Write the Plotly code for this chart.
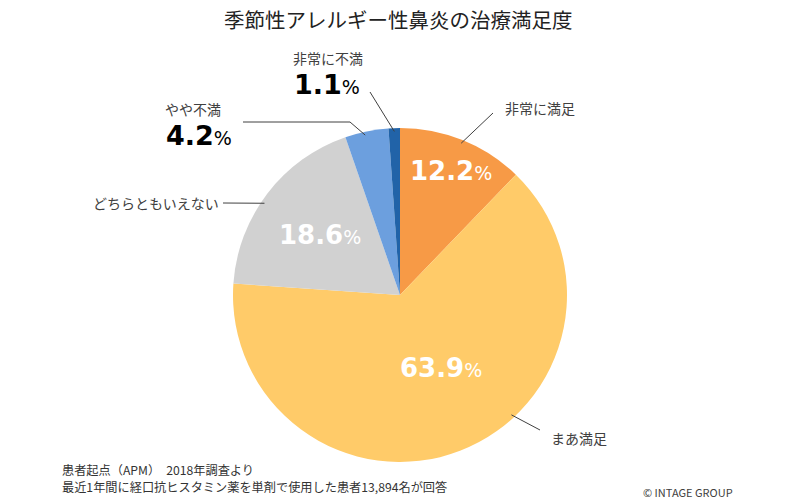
import math
import plotly.graph_objects as go

# ---- data ----
categories = ["非常に満足", "まあ満足", "どちらともいえない", "やや不満", "非常に不満"]
values = [12.2, 63.9, 18.6, 4.2, 1.1]
colors = ["#F79A46", "#FFCB69", "#D1D1D1", "#6C9FDE", "#2163A8"]
inside = [True, True, True, False, False]

title = "季節性アレルギー性鼻炎の治療満足度"
note1 = "患者起点（APM）　2018年調査より"
note2 = "最近1年間に経口抗ヒスタミン薬を単剤で使用した患者13,894名が回答"
credit = "© INTAGE GROUP"

# ---- layout constants (pixels) ----
W, H = 800, 500
CX, CY, R = 400, 295, 167
FONT = "Noto Sans CJK JP, Noto Sans, sans-serif"
NUMFONT = "DejaVu Sans, Verdana, sans-serif"

# inside label: (angle fraction within slice, radial fraction)
inside_pos = {0: (0.51, 0.80), 1: (0.4625, 0.50), 2: (0.49, 0.60)}
# outside label: anchor angle fraction within slice, elbow px, text pos px, anchor
outside = {
    0: dict(frac=0.5, elbow=(493, 113), text=(540, 108), xanchor="center", big=False),
    1: dict(frac=0.405, elbow=(540, 430), text=(579, 438), xanchor="center", big=False),
    2: dict(frac=0.45, elbow=(223, 203), text=(156, 203), xanchor="center", big=False),
    3: dict(frac=0.45, elbow=(350, 122), text=(163, 109), xanchor="left", big=True, line_to=243),
    4: dict(frac=0.5, elbow=(370, 92), text=(291, 58), xanchor="left", big=True),
}


def px(x):
    return x / W


def py(y):
    return 1 - y / H


def polar(angle_deg, rf):
    a = math.radians(angle_deg)
    return CX + rf * R * math.sin(a), CY - rf * R * math.cos(a)


def pct_text(v):
    return (f"<b>{v:.1f}</b><span style='font-size:19px;font-weight:normal'>%</span>")


fig = go.Figure(go.Pie(
    labels=categories,
    values=values,
    sort=False,
    direction="clockwise",
    rotation=0,
    marker=dict(colors=colors, line=dict(width=0)),
    textinfo="none",
    hoverinfo="label+percent",
    showlegend=False,
    domain=dict(x=[px(CX - R), px(CX + R)], y=[py(CY + R), py(CY - R)]),
))

annotations = []
shapes = []
total = sum(values)
start = 0.0
for i, v in enumerate(values):
    span = v / total * 360
    if inside[i]:
        af, rf = inside_pos[i]
        x, y = polar(start + span * af, rf)
        annotations.append(dict(
            x=px(x), y=py(y), xref="paper", yref="paper", showarrow=False,
            xanchor="center", yanchor="middle",
            text=pct_text(v),
            font=dict(family=NUMFONT, size=26, color="white"),
        ))
    o = outside.get(i)
    if o:
        ang = start + span * o["frac"]
        sx, sy = polar(ang, 0.98)
        ex, ey = o["elbow"]
        shapes.append(dict(type="line", xref="paper", yref="paper",
                           x0=px(sx), y0=py(sy), x1=px(ex), y1=py(ey),
                           line=dict(color="#404040", width=1)))
        if "line_to" in o:
            shapes.append(dict(type="line", xref="paper", yref="paper",
                               x0=px(ex), y0=py(ey), x1=px(o["line_to"]), y1=py(ey),
                               line=dict(color="#404040", width=1)))
        tx, ty = o["text"]
        annotations.append(dict(
            x=px(tx), y=py(ty), xref="paper", yref="paper", showarrow=False,
            xanchor=o["xanchor"], yanchor="middle",
            text=categories[i], font=dict(family=FONT, size=14, color="#404040"),
        ))
        if o["big"]:
            annotations.append(dict(
                x=px(tx + 1), y=py(ty + 26), xref="paper", yref="paper", showarrow=False,
                xanchor=o["xanchor"], yanchor="middle",
                text=pct_text(v),
                font=dict(family=NUMFONT, size=27, color="black"),
            ))
    start += span

annotations += [
    dict(x=px(398), y=py(19), xref="paper", yref="paper", showarrow=False,
         xanchor="center", yanchor="middle",
         text=title, font=dict(family=FONT, size=20.5, color="#222222")),
    dict(x=px(60), y=py(470), xref="paper", yref="paper", showarrow=False,
         xanchor="left", yanchor="middle",
         text=note1, font=dict(family=FONT, size=12.2, color="#333333")),
    dict(x=px(60), y=py(487), xref="paper", yref="paper", showarrow=False,
         xanchor="left", yanchor="middle",
         text=note2, font=dict(family=FONT, size=12.2, color="#333333")),
    dict(x=px(735), y=py(492), xref="paper", yref="paper", showarrow=False,
         xanchor="right", yanchor="middle",
         text=credit, font=dict(family=FONT, size=11, color="#404040")),
]

fig.update_layout(
    width=W, height=H,
    margin=dict(l=0, r=0, t=0, b=0),
    paper_bgcolor="white",
    plot_bgcolor="white",
    annotations=annotations,
    shapes=shapes,
)

fig.write_html("out.html", config={"displayModeBar": False},
               post_script="document.body.style.margin='0';")
